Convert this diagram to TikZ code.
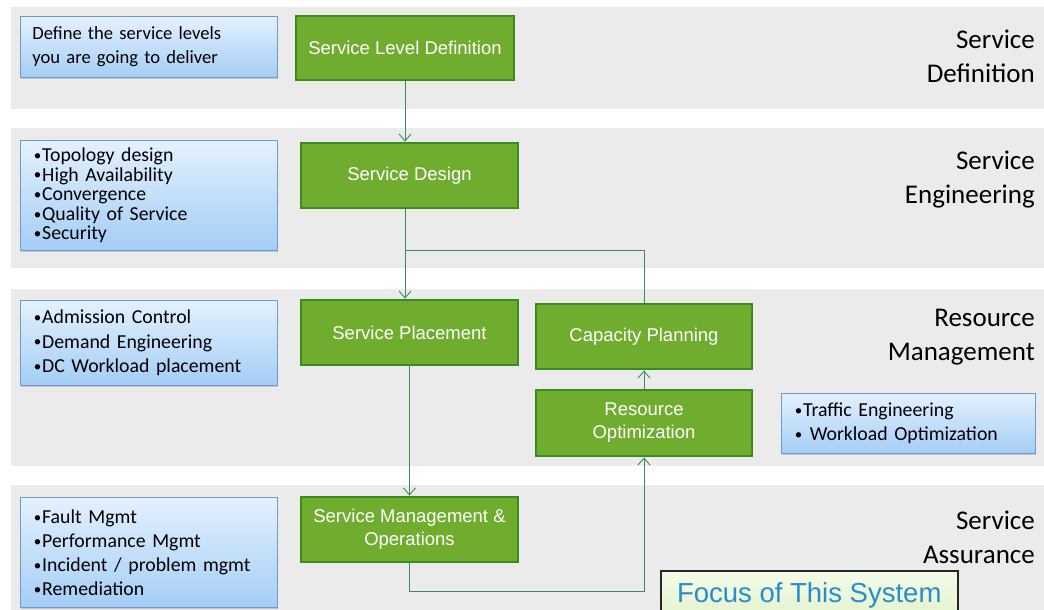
\documentclass[tikz,border=0pt]{standalone}
\usepackage{fontspec}
\setmainfont{Carlito}
\newfontfamily\arialf{Liberation Sans}
\usetikzlibrary{arrows.meta,shadows,calc}
\definecolor{bandgray}{RGB}{235,235,235}
\definecolor{bluetop}{RGB}{228,241,254}
\definecolor{bluebot}{RGB}{164,205,246}
\definecolor{blueborder}{RGB}{110,155,205}
\definecolor{gfill}{RGB}{112,173,46}
\definecolor{gborder}{RGB}{58,140,30}
\definecolor{conncolor}{RGB}{58,140,90}
\definecolor{focustext}{RGB}{40,140,205}
\definecolor{focustop}{RGB}{244,251,232}
\definecolor{focusbot}{RGB}{226,243,204}
\newcommand\smbul{\hspace*{1.5pt}\raisebox{1.2pt}{\fontsize{15}{15}\selectfont•}\hspace{0.8pt}}
\tikzset{
  bluebox/.style={draw=blueborder, line width=0.8pt, top color=bluetop, bottom color=bluebot,
    drop shadow={shadow xshift=1pt, shadow yshift=-2pt, opacity=0.35},
    align=left, text=black, inner xsep=11pt, inner ysep=2pt, anchor=north west,
    minimum width=255pt, text width=233pt},
  gbox/.style={draw=gborder, line width=2.8pt, fill=gfill, text=white,
    font=\arialf\fontsize{18.5}{23}\selectfont, align=center,
    minimum width=217pt, minimum height=65pt, inner sep=1pt},
  conn/.style={draw=conncolor, line width=0.9pt},
  garrow/.style={-{Straight Barb[length=7pt,width=12pt,line width=0.9pt]}},
  bandlabel/.style={anchor=east, align=right, font=\fontsize{27}{34}\selectfont, text=black, inner sep=0pt},
  bul/.style={font=\fontsize{19.8}{24}\selectfont, inner xsep=12pt},
}
\begin{document}
\begin{tikzpicture}[x=1pt,y=-1pt]
\useasboundingbox (0,0) rectangle (1044,610);
\fill[white] (0,0) rectangle (1044,610);
% bands
\fill[bandgray] (11,7) rectangle (1044,109);
\fill[bandgray] (11,128) rectangle (1044,268);
\fill[bandgray] (11,289) rectangle (1044,466);
\fill[bandgray] (11,485) rectangle (1044,610);
% band labels
\node[bandlabel] (l1) at (1035,56) {Service\\Definition};
\node[bandlabel] (l2) at (1035,180) {Service\\Engineering};
\node[bandlabel] (l3) at (1035,337) {Resource\\Management};
\node[bandlabel] (l4) at (1035,537) {Service\\Assurance};
% blue boxes
\node[bluebox, minimum height=61pt, font=\fontsize{18.6}{24}\selectfont, inner xsep=12pt] (b1) at (20,16)
  {Define the service levels\\you are going to deliver};
\node[bluebox, bul, minimum height=110pt, font=\fontsize{19.8}{19.6}\selectfont] (b2) at (20,140)
  {\smbul Topology design\\\smbul High Availability\\\smbul Convergence\\\smbul Quality of Service\\\smbul Security};
\node[bluebox, bul, minimum height=85pt, font=\fontsize{19.8}{24.5}\selectfont] (b3) at (20,300)
  {\smbul Admission Control\\\smbul Demand Engineering\\\smbul DC Workload placement};
\node[bluebox, bul, minimum height=110pt, minimum width=257pt] (b4) at (20,497)
  {\smbul Fault Mgmt\\\smbul Performance Mgmt\\\smbul Incident / problem mgmt\\\smbul Remediation};
\node[bluebox, bul, minimum height=60pt, minimum width=254pt, text width=230pt] (b5) at (781,393)
  {\smbul Traffic Engineering\\\smbul\ Workload Optimization};
% green boxes
\node[gbox, minimum width=218pt, minimum height=64pt] (sld) at (405,48) {Service Level Definition};
\node[gbox] (sd) at (409.5,175.5) {Service Design};
\node[gbox] (sp) at (409.5,332.5) {Service Placement};
\node[gbox, minimum width=216pt] (cp) at (644,336.5) {Capacity Planning};
\node[gbox, minimum width=216pt, minimum height=66pt] (ro) at (644,423) {Resource\\Optimization};
\node[gbox] (smo) at (409.5,529.5) {Service Management \&\\Operations};
% connectors
\coordinate (j) at (405,250);
\draw[conn, garrow] (sld.south) -- (sld.south |- sd.north);
\draw[conn, garrow] (sld.south |- sd.south) -- (sld.south |- sp.north);
\draw[conn] (cp.north) |- (j);
\draw[conn, garrow] (sp.south) -- (smo.north);
\draw[conn, garrow] (smo.south) -- ++(0,28) -| (ro.south);
\draw[conn, garrow] (ro.north) -- (cp.south);
% focus box
\node[draw=black!85, line width=1.5pt, top color=focustop, bottom color=focusbot,
  anchor=north west, minimum width=297pt, minimum height=50pt, inner sep=0pt,
  font=\arialf\fontsize{27.5}{30}\selectfont, text=focustext,
  drop shadow={shadow xshift=1pt, shadow yshift=-1pt, opacity=0.3}] (focus) at (660,570)
  {Focus of This System};
\end{tikzpicture}
\end{document}
